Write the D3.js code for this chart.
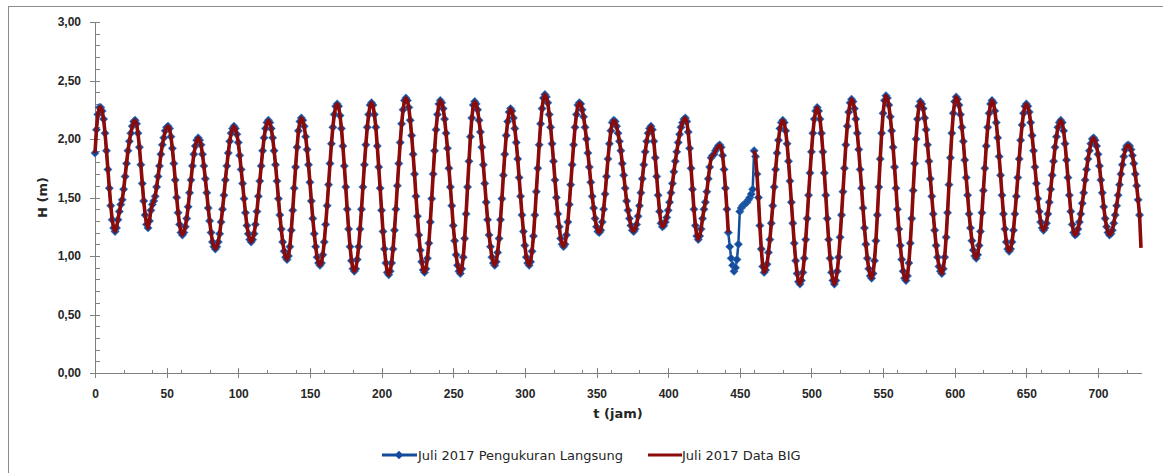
<!DOCTYPE html>
<html>
<head>
<meta charset="utf-8">
<script src="https://cdn.jsdelivr.net/npm/d3@7"></script>
<style>
  body { margin: 0; background: #fff; }
  svg { display: block; font-family: "DejaVu Sans", Verdana, sans-serif; }
  .axis path, .axis line { stroke: #808080; shape-rendering: crispEdges; }
  .axis text { font-size: 12px; font-weight: bold; fill: #262626; }
  .title { font-size: 13px; font-weight: bold; fill: #262626; }
  .legend text { font-size: 13px; fill: #262626; }
</style>
</head>
<body>
<svg class="chart"></svg>
<script>
//======
// Data
//======

// tinggi muka air tiap jam (index = t jam), Juli 2017
var pengukuran = [
  1.88,2.08,2.21,2.27,2.27,2.24,2.17,2.05,1.90,1.74,1.58,1.43,1.31,1.24,1.21, // 0-14
  1.24,1.31,1.38,1.44,1.48,1.57,1.68,1.79,1.90,1.98,2.05,2.11,2.15,2.16, // 15-28
  2.13,2.05,1.93,1.78,1.62,1.47,1.35,1.27,1.24,
  1.30,1.39,1.44,1.47,1.51,1.59,1.68,1.77,1.87,1.95,2.01,2.07,2.10,2.11,
  2.09,2.02,1.92,1.79,1.65,1.50,1.37,1.27,1.20,1.18,
  1.20,1.25,1.32,1.42,1.54,1.65,1.77,1.87,1.94,1.99,2.01,
  1.99,1.95,1.87,1.77,1.66,1.54,1.41,1.30,1.20,1.12,1.08,1.06,
  1.08,1.12,1.19,1.29,1.40,1.52,1.65,1.77,1.88,1.98,2.05,2.09,2.11,
  2.09,2.04,1.97,1.86,1.74,1.62,1.49,1.37,1.26,1.19,1.14,1.12,
  1.14,1.19,1.27,1.38,1.51,1.64,1.77,1.90,2.01,2.09,2.14,2.16,
  2.14,2.09,2.01,1.90,1.78,1.64,1.49,1.35,1.23,1.12,1.04,0.99,0.97,
  1.00,1.08,1.22,1.39,1.58,1.76,1.93,2.07,2.15,2.18,
  2.16,2.11,2.02,1.91,1.78,1.63,1.47,1.32,1.19,1.08,0.99,0.94,0.92,
  0.94,1.01,1.12,1.27,1.43,1.61,1.79,1.96,2.10,2.21,2.28,2.30,
  2.28,2.20,2.09,1.94,1.77,1.59,1.40,1.23,1.08,0.96,0.89,0.87,
  0.89,0.97,1.08,1.23,1.40,1.59,1.78,1.95,2.10,2.21,2.29,2.31,
  2.29,2.21,2.10,1.94,1.76,1.58,1.39,1.21,1.06,0.94,0.86,0.84,
  0.87,0.94,1.06,1.22,1.40,1.60,1.79,1.97,2.13,2.25,2.33,2.35,
  2.33,2.27,2.16,2.03,1.87,1.70,1.51,1.34,1.18,1.05,0.95,0.88,0.86,
  0.89,0.98,1.11,1.29,1.49,1.70,1.90,2.08,2.21,2.30,2.33,
  2.31,2.26,2.17,2.05,1.92,1.75,1.59,1.43,1.26,1.13,1.01,0.92,0.87,0.85,
  0.89,0.99,1.15,1.36,1.59,1.81,2.02,2.18,2.29,2.32,
  2.30,2.25,2.16,2.06,1.93,1.78,1.62,1.46,1.31,1.18,1.08,0.99,0.94,0.92,
  0.95,1.03,1.15,1.31,1.49,1.69,1.87,2.03,2.15,2.23,2.26,
  2.24,2.18,2.09,1.97,1.83,1.67,1.51,1.35,1.21,1.09,0.99,0.94,0.92,
  0.95,1.04,1.17,1.35,1.55,1.75,1.95,2.13,2.26,2.35,2.38,
  2.36,2.31,2.21,2.10,1.96,1.81,1.65,1.50,1.36,1.25,1.15,1.10,1.08,
  1.10,1.18,1.29,1.44,1.61,1.78,1.95,2.10,2.21,2.29,2.31,
  2.30,2.25,2.19,2.10,2.00,1.88,1.76,1.63,1.51,1.41,1.32,1.25,1.21,1.20,
  1.22,1.29,1.40,1.53,1.68,1.83,1.96,2.07,2.14,2.16,
  2.15,2.11,2.05,1.98,1.90,1.79,1.69,1.58,1.47,1.39,1.32,1.26,1.22,1.21,
  1.23,1.27,1.34,1.43,1.54,1.66,1.78,1.89,1.98,2.05,2.09,2.11,
  2.08,1.98,1.84,1.68,1.52,1.38,1.28,1.25,
  1.26,1.29,1.33,1.39,1.46,1.54,1.62,1.72,1.81,1.89,1.97,2.04,2.10,2.14,2.17,2.18,
  2.15,2.06,1.92,1.75,1.57,1.40,1.26,1.17,1.14,
  1.17,1.23,1.32,1.40,1.46,1.55,1.66,1.76,1.84,1.86,1.87,1.90,1.92,1.94,1.95, // 422-436
  1.93,1.86,1.74,1.58,1.40,1.20, // 437-442
  1.08,0.98,0.92,0.87,0.90,0.97,1.10,1.38,1.41,1.43,1.44,1.45,1.46,1.48,1.50,1.53,1.57,1.90, // 443-460
  1.85,1.70,1.50,1.26,1.06,0.91,0.86,
  0.88,0.93,1.03,1.14,1.28,1.43,1.59,1.74,1.88,1.99,2.09,2.14,2.16,
  2.14,2.07,1.96,1.81,1.64,1.46,1.28,1.11,0.96,0.85,0.78,0.76,
  0.79,0.86,0.98,1.14,1.32,1.52,1.71,1.89,2.05,2.17,2.24,2.27,
  2.24,2.17,2.05,1.89,1.71,1.52,1.32,1.14,0.98,0.86,0.79,0.76,
  0.79,0.87,0.99,1.16,1.35,1.55,1.75,1.95,2.11,2.23,2.31,2.34,
  2.32,2.26,2.17,2.05,1.91,1.74,1.58,1.41,1.24,1.10,0.98,0.89,0.83,0.81,
  0.85,0.96,1.13,1.35,1.59,1.83,2.05,2.22,2.33,2.37,
  2.35,2.29,2.19,2.07,1.93,1.76,1.58,1.40,1.23,1.09,0.97,0.87,0.81,0.79,
  0.83,0.94,1.11,1.32,1.56,1.79,2.00,2.17,2.28,2.32,
  2.30,2.26,2.18,2.08,1.95,1.81,1.66,1.51,1.36,1.22,1.09,0.99,0.91,0.87,0.85,
  0.89,0.99,1.16,1.37,1.61,1.84,2.05,2.22,2.32,2.36,
  2.34,2.29,2.21,2.10,1.98,1.82,1.67,1.52,1.36,1.24,1.13,1.05,1.00,0.98,
  1.01,1.09,1.21,1.37,1.56,1.75,1.94,2.10,2.22,2.30,2.33,
  2.31,2.24,2.14,2.01,1.85,1.69,1.52,1.36,1.23,1.12,1.06,1.04,
  1.06,1.12,1.22,1.36,1.51,1.67,1.83,1.99,2.12,2.22,2.28,2.30,
  2.28,2.23,2.14,2.03,1.90,1.76,1.62,1.49,1.38,1.29,1.24,1.22,
  1.24,1.28,1.36,1.46,1.57,1.69,1.81,1.93,2.02,2.10,2.14,2.16,
  2.14,2.07,1.96,1.82,1.67,1.52,1.38,1.27,1.20,1.18,
  1.19,1.23,1.29,1.36,1.45,1.54,1.65,1.74,1.83,1.90,1.96,2.00,2.01,
  1.99,1.94,1.87,1.77,1.65,1.54,1.42,1.32,1.25,1.20,1.18,
  1.19,1.22,1.28,1.35,1.43,1.52,1.61,1.70,1.78,1.85,1.91,1.94,1.95,
  1.94,1.91,1.86,1.79,1.70,1.60,1.48,1.35 // 722-729
];

// data BIG, kosong (null) pada jam 443-459
var dataBIG = [
  1.88,2.08,2.21,2.27,2.27,2.24,2.17,2.05,1.90,1.74,1.58,1.43,1.31,1.24,1.21,
  1.24,1.31,1.38,1.44,1.48,1.57,1.68,1.79,1.90,1.98,2.05,2.11,2.15,2.16,
  2.13,2.05,1.93,1.78,1.62,1.47,1.35,1.27,1.24,
  1.30,1.39,1.44,1.47,1.51,1.59,1.68,1.77,1.87,1.95,2.01,2.07,2.10,2.11,
  2.09,2.02,1.92,1.79,1.65,1.50,1.37,1.27,1.20,1.18,
  1.20,1.25,1.32,1.42,1.54,1.65,1.77,1.87,1.94,1.99,2.01,
  1.99,1.95,1.87,1.77,1.66,1.54,1.41,1.30,1.20,1.12,1.08,1.06,
  1.08,1.12,1.19,1.29,1.40,1.52,1.65,1.77,1.88,1.98,2.05,2.09,2.11,
  2.09,2.04,1.97,1.86,1.74,1.62,1.49,1.37,1.26,1.19,1.14,1.12,
  1.14,1.19,1.27,1.38,1.51,1.64,1.77,1.90,2.01,2.09,2.14,2.16,
  2.14,2.09,2.01,1.90,1.78,1.64,1.49,1.35,1.23,1.12,1.04,0.99,0.97,
  1.00,1.08,1.22,1.39,1.58,1.76,1.93,2.07,2.15,2.18,
  2.16,2.11,2.02,1.91,1.78,1.63,1.47,1.32,1.19,1.08,0.99,0.94,0.92,
  0.94,1.01,1.12,1.27,1.43,1.61,1.79,1.96,2.10,2.21,2.28,2.30,
  2.28,2.20,2.09,1.94,1.77,1.59,1.40,1.23,1.08,0.96,0.89,0.87,
  0.89,0.97,1.08,1.23,1.40,1.59,1.78,1.95,2.10,2.21,2.29,2.31,
  2.29,2.21,2.10,1.94,1.76,1.58,1.39,1.21,1.06,0.94,0.86,0.84,
  0.87,0.94,1.06,1.22,1.40,1.60,1.79,1.97,2.13,2.25,2.33,2.35,
  2.33,2.27,2.16,2.03,1.87,1.70,1.51,1.34,1.18,1.05,0.95,0.88,0.86,
  0.89,0.98,1.11,1.29,1.49,1.70,1.90,2.08,2.21,2.30,2.33,
  2.31,2.26,2.17,2.05,1.92,1.75,1.59,1.43,1.26,1.13,1.01,0.92,0.87,0.85,
  0.89,0.99,1.15,1.36,1.59,1.81,2.02,2.18,2.29,2.32,
  2.30,2.25,2.16,2.06,1.93,1.78,1.62,1.46,1.31,1.18,1.08,0.99,0.94,0.92,
  0.95,1.03,1.15,1.31,1.49,1.69,1.87,2.03,2.15,2.23,2.26,
  2.24,2.18,2.09,1.97,1.83,1.67,1.51,1.35,1.21,1.09,0.99,0.94,0.92,
  0.95,1.04,1.17,1.35,1.55,1.75,1.95,2.13,2.26,2.35,2.38,
  2.36,2.31,2.21,2.10,1.96,1.81,1.65,1.50,1.36,1.25,1.15,1.10,1.08,
  1.10,1.18,1.29,1.44,1.61,1.78,1.95,2.10,2.21,2.29,2.31,
  2.30,2.25,2.19,2.10,2.00,1.88,1.76,1.63,1.51,1.41,1.32,1.25,1.21,1.20,
  1.22,1.29,1.40,1.53,1.68,1.83,1.96,2.07,2.14,2.16,
  2.15,2.11,2.05,1.98,1.90,1.79,1.69,1.58,1.47,1.39,1.32,1.26,1.22,1.21,
  1.23,1.27,1.34,1.43,1.54,1.66,1.78,1.89,1.98,2.05,2.09,2.11,
  2.08,1.98,1.84,1.68,1.52,1.38,1.28,1.25,
  1.26,1.29,1.33,1.39,1.46,1.54,1.62,1.72,1.81,1.89,1.97,2.04,2.10,2.14,2.17,2.18,
  2.15,2.06,1.92,1.75,1.57,1.40,1.26,1.17,1.14,
  1.17,1.23,1.32,1.40,1.46,1.55,1.66,1.76,1.84,1.86,1.87,1.90,1.92,1.94,1.95,
  1.93,1.86,1.74,1.58,1.40,1.20,
  null,null,null,null,null,null,null,null,null,null,null,null,null,null,null,null,null,1.90, // 443-460
  1.85,1.70,1.50,1.26,1.06,0.91,0.86,
  0.88,0.93,1.03,1.14,1.28,1.43,1.59,1.74,1.88,1.99,2.09,2.14,2.16,
  2.14,2.07,1.96,1.81,1.64,1.46,1.28,1.11,0.96,0.85,0.78,0.76,
  0.79,0.86,0.98,1.14,1.32,1.52,1.71,1.89,2.05,2.17,2.24,2.27,
  2.24,2.17,2.05,1.89,1.71,1.52,1.32,1.14,0.98,0.86,0.79,0.76,
  0.79,0.87,0.99,1.16,1.35,1.55,1.75,1.95,2.11,2.23,2.31,2.34,
  2.32,2.26,2.17,2.05,1.91,1.74,1.58,1.41,1.24,1.10,0.98,0.89,0.83,0.81,
  0.85,0.96,1.13,1.35,1.59,1.83,2.05,2.22,2.33,2.37,
  2.35,2.29,2.19,2.07,1.93,1.76,1.58,1.40,1.23,1.09,0.97,0.87,0.81,0.79,
  0.83,0.94,1.11,1.32,1.56,1.79,2.00,2.17,2.28,2.32,
  2.30,2.26,2.18,2.08,1.95,1.81,1.66,1.51,1.36,1.22,1.09,0.99,0.91,0.87,0.85,
  0.89,0.99,1.16,1.37,1.61,1.84,2.05,2.22,2.32,2.36,
  2.34,2.29,2.21,2.10,1.98,1.82,1.67,1.52,1.36,1.24,1.13,1.05,1.00,0.98,
  1.01,1.09,1.21,1.37,1.56,1.75,1.94,2.10,2.22,2.30,2.33,
  2.31,2.24,2.14,2.01,1.85,1.69,1.52,1.36,1.23,1.12,1.06,1.04,
  1.06,1.12,1.22,1.36,1.51,1.67,1.83,1.99,2.12,2.22,2.28,2.30,
  2.28,2.23,2.14,2.03,1.90,1.76,1.62,1.49,1.38,1.29,1.24,1.22,
  1.24,1.28,1.36,1.46,1.57,1.69,1.81,1.93,2.02,2.10,2.14,2.16,
  2.14,2.07,1.96,1.82,1.67,1.52,1.38,1.27,1.20,1.18,
  1.19,1.23,1.29,1.36,1.45,1.54,1.65,1.74,1.83,1.90,1.96,2.00,2.01,
  1.99,1.94,1.87,1.77,1.65,1.54,1.42,1.32,1.25,1.20,1.18,
  1.19,1.22,1.28,1.35,1.43,1.52,1.61,1.70,1.78,1.85,1.91,1.94,1.95,
  1.94,1.91,1.86,1.79,1.70,1.60,1.48,1.35,1.07 // 722-730
];

var xTicks = [0, 50, 100, 150, 200, 250, 300, 350, 400, 450, 500, 550, 600, 650, 700];
var xMinor = [20, 40, 60, 80, 120, 140, 160, 180, 220, 240, 260, 280, 320, 340, 360, 380,
  420, 440, 460, 480, 520, 540, 560, 580, 620, 640, 660, 680, 720];
var yTicks = [0, 0.5, 1, 1.5, 2, 2.5, 3];
var yMinor = [0.1, 0.2, 0.3, 0.4, 0.6, 0.7, 0.8, 0.9, 1.1, 1.2, 1.3, 1.4, 1.6, 1.7, 1.8, 1.9,
  2.1, 2.2, 2.3, 2.4, 2.6, 2.7, 2.8, 2.9];
var seriesNames = ["Juli 2017 Pengukuran Langsung", "Juli 2017 Data BIG"];
var colors = ["#134c9c", "#8b0b0b"];

//=======
// Chart
//=======

var W = 1163, H = 473;
var margin = { top: 22, right: 22, bottom: 100, left: 95 };

var svg = d3.select(".chart")
  .attr("width", W)
  .attr("height", H);

// frame around chart area
svg.append("rect")
  .attr("x", 8.5).attr("y", 6.5)
  .attr("width", 1200).attr("height", 500)
  .attr("fill", "none")
  .attr("stroke", "#8c8c8c");

var x = d3.scaleLinear()
  .domain([0, 730])
  .range([margin.left, 1141]);

var y = d3.scaleLinear()
  .domain([0, 3])
  .range([373, margin.top]);

var comma = d3.formatLocale({ decimal: ",", thousands: ".", grouping: [3], currency: ["", ""] }).format(".2f");

// y axis: major ticks cross the line, minor ticks inside
var yAxis = svg.append("g")
  .attr("class", "axis")
  .attr("transform", "translate(" + x(0) + ",0)")
  .call(d3.axisLeft(y).tickValues(yTicks).tickFormat(comma).tickSizeOuter(0));
yAxis.selectAll(".tick line").attr("x1", -5).attr("x2", 5);
yAxis.selectAll(".tick text").attr("x", -14);

svg.append("g")
  .attr("class", "axis")
  .attr("transform", "translate(" + x(0) + ",0)")
  .call(d3.axisRight(y).tickValues(yMinor).tickSize(5).tickFormat(""))
  .select(".domain").remove();

// x axis
var xAxis = svg.append("g")
  .attr("class", "axis")
  .attr("transform", "translate(0," + y(0) + ")")
  .call(d3.axisBottom(x).tickValues(xTicks).tickFormat(d3.format("d")).tickSizeOuter(0).tickPadding(10));
xAxis.selectAll(".tick line").attr("y1", -5).attr("y2", 5);

svg.append("g")
  .attr("class", "axis")
  .attr("transform", "translate(0," + y(0) + ")")
  .call(d3.axisTop(x).tickValues(xMinor).tickSize(3).tickFormat(""))
  .select(".domain").remove();

// axis titles
svg.append("text")
  .attr("class", "title")
  .attr("x", (x(0) + x(730)) / 2)
  .attr("y", 418)
  .attr("text-anchor", "middle")
  .text("t (jam)");

svg.append("text")
  .attr("class", "title")
  .attr("transform", "translate(47," + ((y(0) + y(3)) / 2) + ") rotate(-90)")
  .attr("text-anchor", "middle")
  .text("H (m)");

// lines
var line = d3.line()
  .defined(function(d) { return d != null; })
  .x(function(d, i) { return x(i); })
  .y(function(d) { return y(d); });

var diamond = "M0,-4.2L4.2,0L0,4.2L-4.2,0Z";

svg.append("path")
  .datum(pengukuran)
  .attr("fill", "none")
  .attr("stroke", colors[0])
  .attr("stroke-width", 2.5)
  .attr("stroke-linejoin", "round")
  .attr("d", line);

svg.append("g")
  .selectAll("path")
  .data(pengukuran)
  .enter()
  .append("path")
  .attr("d", diamond)
  .attr("transform", function(d, i) { return "translate(" + x(i) + "," + y(d) + ")"; })
  .attr("fill", colors[0])
  .attr("stroke", "#4a7cc0")
  .attr("stroke-width", 0.5);

svg.append("path")
  .datum(dataBIG)
  .attr("fill", "none")
  .attr("stroke", colors[1])
  .attr("stroke-width", 3.6)
  .attr("stroke-linejoin", "round")
  .attr("d", line);

// legend
var legend = svg.append("g").attr("class", "legend");

legend.append("line")
  .attr("x1", 382).attr("x2", 417).attr("y1", 455).attr("y2", 455)
  .attr("stroke", colors[0]).attr("stroke-width", 3);
legend.append("path")
  .attr("d", diamond)
  .attr("transform", "translate(399,455)")
  .attr("fill", colors[0]);
legend.append("text")
  .attr("x", 418).attr("y", 460)
  .text(seriesNames[0]);

legend.append("line")
  .attr("x1", 648).attr("x2", 682).attr("y1", 455).attr("y2", 455)
  .attr("stroke", colors[1]).attr("stroke-width", 3);
legend.append("text")
  .attr("x", 682).attr("y", 460)
  .text(seriesNames[1]);
</script>
</body>
</html>
